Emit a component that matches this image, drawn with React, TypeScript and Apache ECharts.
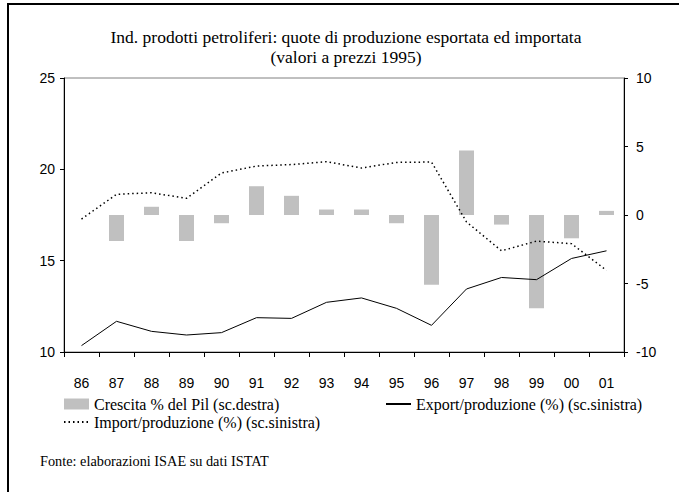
import React, { useEffect, useRef } from "react";
import * as echarts from "echarts";

const years = ["86", "87", "88", "89", "90", "91", "92", "93", "94", "95", "96", "97", "98", "99", "00", "01"];
const pilGrowth = [null, -1.9, 0.6, -1.9, -0.6, 2.1, 1.4, 0.4, 0.4, -0.6, -5.1, 4.7, -0.7, -6.8, -1.7, 0.3];
const exportShare = [10.35, 11.68, 11.13, 10.93, 11.06, 11.88, 11.84, 12.72, 12.96, 12.39, 11.46, 13.45, 14.08, 13.96, 15.12, 15.54];
const importShare = [17.28, 18.63, 18.72, 18.41, 19.8, 20.18, 20.26, 20.42, 20.07, 20.38, 20.4, 17.12, 15.54, 16.07, 15.93, 14.47];

const titleText = "Ind. prodotti petroliferi: quote di produzione esportata ed importata\n(valori a prezzi 1995)";
const sourceText = "Fonte: elaborazioni ISAE su dati ISTAT";
const nameBar = "Crescita % del Pil (sc.destra)";
const nameExport = "Export/produzione (%) (sc.sinistra)";
const nameImport = "Import/produzione (%) (sc.sinistra)";

const SERIF = "'Liberation Serif', 'Times New Roman', serif";
const SANS = "'Liberation Sans', Arial, sans-serif";

export default function App() {
  const ref = useRef<HTMLDivElement>(null);
  useEffect(() => {
    if (!ref.current) return;
    const chart = echarts.init(ref.current, undefined, { renderer: "svg" });
    chart.setOption({
      animation: false,
      backgroundColor: "#ffffff",
      grid: {
        left: 64,
        right: 55,
        top: 78,
        bottom: 140,
        show: true,
        borderColor: "#808080",
        borderWidth: 1,
        backgroundColor: "transparent",
      },
      xAxis: {
        type: "category",
        data: years,
        boundaryGap: true,
        axisLine: { onZero: false, lineStyle: { color: "#000", width: 1 } },
        axisTick: { show: true, length: 5, lineStyle: { color: "#000" } },
        axisLabel: { color: "#000", fontFamily: SANS, fontSize: 14, margin: 24 },
        splitLine: { show: false },
      },
      yAxis: [
        {
          type: "value",
          min: 10,
          max: 25,
          interval: 5,
          position: "left",
          axisLine: { show: true, lineStyle: { color: "#000", width: 1 } },
          axisTick: { show: true, length: 4, lineStyle: { color: "#000" } },
          axisLabel: { color: "#000", fontFamily: SANS, fontSize: 14, margin: 9 },
          splitLine: { show: false },
        },
        {
          type: "value",
          min: -10,
          max: 10,
          interval: 5,
          position: "right",
          axisLine: { show: true, lineStyle: { color: "#000", width: 1 } },
          axisTick: { show: true, length: 4, lineStyle: { color: "#000" } },
          axisLabel: { color: "#000", fontFamily: SANS, fontSize: 14, margin: 12 },
          splitLine: { show: false },
        },
      ],
      legend: [
        {
          orient: "vertical",
          left: 63,
          top: 396,
          padding: 0,
          itemWidth: 25,
          itemHeight: 11,
          itemGap: 2,
          textStyle: { color: "#000", fontFamily: SERIF, fontSize: 16 },
          data: [
            { name: nameBar, icon: "rect" },
            { name: nameImport, itemStyle: { opacity: 0 } },
          ],
        },
        {
          orient: "horizontal",
          left: 385,
          top: 396,
          padding: 0,
          itemWidth: 25,
          itemHeight: 11,
          textStyle: { color: "#000", fontFamily: SERIF, fontSize: 16 },
          data: [{ name: nameExport, itemStyle: { opacity: 0 } }],
        },
      ],
      graphic: [
        {
          type: "rect",
          shape: { x: 8, y: 4, width: 700, height: 520 },
          style: { fill: "none", stroke: "#000", lineWidth: 2 },
          silent: true,
          z: 100,
        },
        {
          type: "text",
          x: 346,
          y: 27,
          style: {
            text: titleText,
            fill: "#000",
            font: `17.5px ${SERIF}`,
            textAlign: "center",
            lineHeight: 20,
          },
        },
        {
          type: "text",
          x: 40,
          y: 454,
          style: {
            text: sourceText,
            fill: "#000",
            font: `14.3px ${SERIF}`,
          },
        },
      ],
      series: [
        {
          name: nameBar,
          type: "bar",
          yAxisIndex: 1,
          data: pilGrowth,
          barWidth: 15,
          itemStyle: { color: "#c0c0c0" },
        },
        {
          name: nameExport,
          type: "line",
          yAxisIndex: 0,
          data: exportShare,
          symbol: "none",
          lineStyle: { color: "#000", width: 1 },
          itemStyle: { color: "#000" },
        },
        {
          name: nameImport,
          type: "line",
          yAxisIndex: 0,
          data: importShare,
          symbol: "none",
          lineStyle: { color: "#000", width: 1.5, type: [1.5, 3] },
          itemStyle: { color: "#000" },
        },
      ],
    });
    return () => chart.dispose();
  }, []);
  return (
    <div
      ref={ref}
      style={{ position: "fixed", left: 0, top: 0, width: 679, height: 492, background: "#fff" }}
    />
  );
}
